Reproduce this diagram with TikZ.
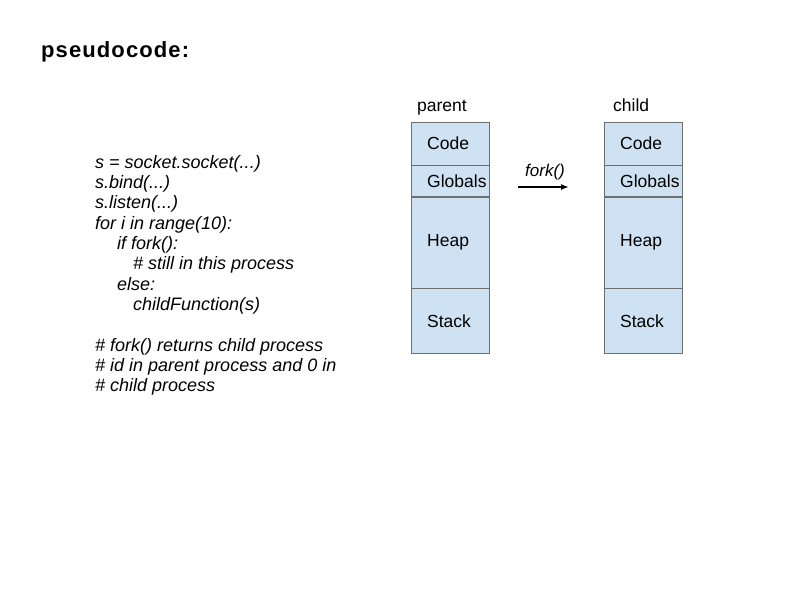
\documentclass[tikz,border=0pt]{standalone}
\usepackage{fontspec}
\setmainfont{Liberation Sans}
\usetikzlibrary{positioning,arrows.meta}

\definecolor{segfill}{RGB}{207,226,243}
\definecolor{segline}{RGB}{110,110,110}

\tikzset{
  seg/.style={draw=segline, fill=segfill, minimum width=78pt, text width=46pt,
    inner xsep=16pt, inner ysep=0pt, align=left, font=\fontsize{17.5}{20}\selectfont},
  codeline/.style={anchor=base west, inner sep=0pt, font=\fontsize{18}{20}\selectfont\itshape},
  collabel/.style={anchor=base west, inner sep=0pt, font=\fontsize{17.5}{20}\selectfont}
}

\begin{document}
\begin{tikzpicture}[x=1pt, y=-1pt]
  \useasboundingbox (0,0) rectangle (794,595);

  \node[anchor=base west, inner sep=0pt, font=\fontsize{22}{24}\selectfont\bfseries\addfontfeatures{LetterSpace=5}] (title) at (41,57) {pseudocode:};

  % the program
  \foreach \n/\x/\y/\txt in {
    1/95/168/{s = socket.socket(...)},
    2/95/188.3/{s.bind(...)},
    3/95/208.6/{s.listen(...)},
    4/95/229/{for i in range(10):},
    5/117/249.3/{if fork():},
    6/133/269.6/{\# still in this process},
    7/117/290/{else:},
    8/133/310.3/{childFunction(s)},
    9/95/351/{\# fork() returns child process},
    10/95/371.3/{\# id in parent process and 0 in},
    11/95/391.6/{\# child process}} {
    \node[codeline] (line\n) at (\x,\y) {\txt};
  }

  % parent memory
  \node[collabel] (parent) at (417,111) {parent};
  \node[seg, minimum height=43pt, anchor=north west] (pcode) at (411,122) {Code};
  \node[seg, minimum height=31pt, below=0pt of pcode] (pglob) {Globals};
  \node[seg, minimum height=91pt, below=0pt of pglob] (pheap) {Heap};
  \node[seg, minimum height=65pt, below=0pt of pheap] (pstack) {Stack};

  % child memory
  \node[collabel] (child) at (613,111) {child};
  \node[seg, minimum height=43pt, anchor=north west] (ccode) at (604,122) {Code};
  \node[seg, minimum height=31pt, below=0pt of ccode] (cglob) {Globals};
  \node[seg, minimum height=91pt, below=0pt of cglob] (cheap) {Heap};
  \node[seg, minimum height=65pt, below=0pt of cheap] (cstack) {Stack};

  % fork
  \coordinate (fs) at (518,187);
  \coordinate (fe) at (569,187);
  \draw[line width=1.6pt, -{Latex[length=8pt,width=6pt]}] (fs) -- (fe);
  \node[inner sep=0pt, font=\fontsize{17}{20}\selectfont\itshape] (forklabel) at (545,172) {fork()};
\end{tikzpicture}
\end{document}
